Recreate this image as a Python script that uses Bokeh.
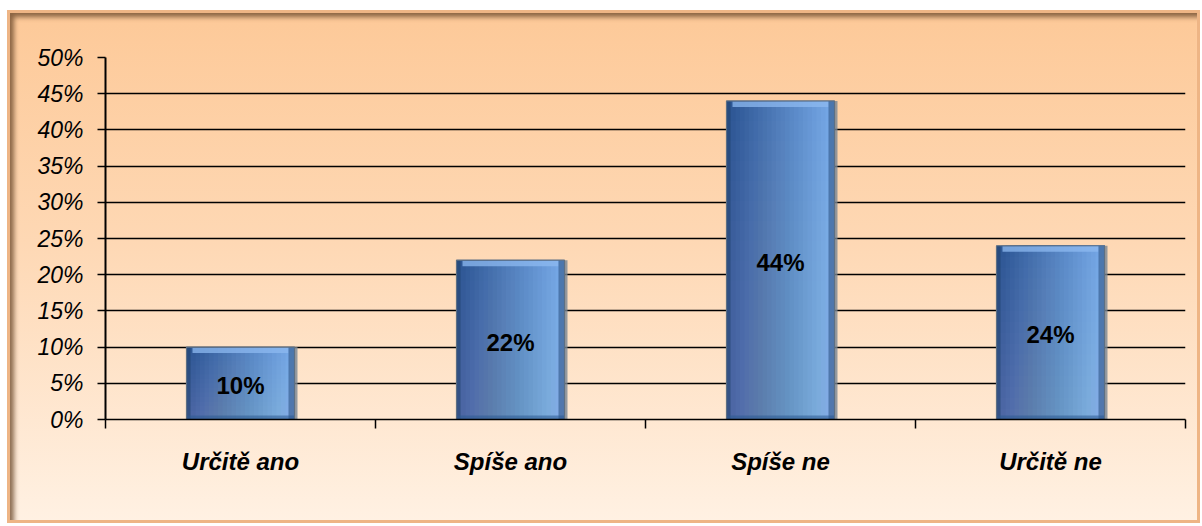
import numpy as np
from bokeh.plotting import figure
from bokeh.models import Range1d, FixedTicker, PrintfTickFormatter, ColumnDataSource
from bokeh.core.properties import value
from bokeh.embed import file_html
from bokeh.resources import INLINE

# ---- data ----
categories = ["Určitě ano", "Spíše ano", "Spíše ne", "Určitě ne"]
values = [10, 22, 44, 24]
value_labels = ["10%", "22%", "44%", "24%"]
y_ticks = [0, 5, 10, 15, 20, 25, 30, 35, 40, 45, 50]

FONT = "Liberation Sans"

n = len(categories)
centers = np.arange(n) + 0.5
vals = np.array(values, dtype=float)

p = figure(width=1193, height=513, output_backend="svg", toolbar_location=None,
           x_range=Range1d(0, n), y_range=Range1d(0, 50),
           min_border_left=98, min_border_right=15, min_border_top=47, min_border_bottom=104)
p.background_fill_color = None
p.border_fill_color = None
p.outline_line_color = None
p.styles = {
    "margin-left": "7px",
    "margin-top": "10px",
    "background": "linear-gradient(to bottom, #fdc998 0%, #fed8b4 45%, #fff1e3 100%)",
    "box-shadow": "inset 0 0 0 3px #eeb585, inset 8px 8px 5px -1px rgba(110,75,45,0.8), inset -2px -2px 2px rgba(255,255,255,0.6)",
}

# grid
p.xgrid.grid_line_color = None
p.ygrid.grid_line_color = "black"
p.ygrid.grid_line_width = 1.3
p.ygrid.ticker = FixedTicker(ticks=y_ticks)

# y axis
ya = p.yaxis[0]
ya.ticker = FixedTicker(ticks=y_ticks)
ya.formatter = PrintfTickFormatter(format="%d%%")
ya.axis_line_color = "black"
ya.axis_line_width = 2
ya.major_tick_line_color = "black"
ya.major_tick_line_width = 1.3
ya.major_tick_out = 8
ya.major_tick_in = 0
ya.minor_tick_line_color = None
ya.major_label_text_font = FONT
ya.major_label_text_font_style = "italic"
ya.major_label_text_font_size = "23px"
ya.major_label_text_color = "black"
ya.major_label_standoff = 14

# x axis
xa = p.xaxis[0]
xa.ticker = FixedTicker(ticks=list(centers), minor_ticks=list(np.arange(n + 1)))
xa.major_label_overrides = {float(c): cat for c, cat in zip(centers, categories)}
xa.axis_line_color = "black"
xa.axis_line_width = 1.5
xa.major_tick_line_color = None
xa.major_tick_out = 0
xa.major_tick_in = 0
xa.minor_tick_line_color = "black"
xa.minor_tick_line_width = 1.5
xa.minor_tick_out = 9
xa.minor_tick_in = 0
xa.major_label_text_font = FONT
xa.major_label_text_font_style = "bold italic"
xa.major_label_text_font_size = "24px"
xa.major_label_text_color = "black"
xa.major_label_standoff = 19

# ---- bars ----
bar_w = 0.4
px_x = 270.0   # approx pixels per x unit
px_y = 7.245   # approx pixels per percent

# shadow / outline
p.vbar(x=centers + 1.5 / px_x, top=vals, bottom=-1.5 / px_y, width=bar_w + 3 / px_x,
       fill_color="#7b8794", line_color=None, fill_alpha=0.8)

# horizontal gradient strips (overlapping to avoid seams)
left = np.array([42, 84, 146])
right = np.array([118, 168, 232])
ns = 24
sw = bar_w / ns
for k in range(ns):
    t = k / (ns - 1)
    c = (left * (1 - t) + right * t).astype(int)
    col = "#%02x%02x%02x" % tuple(c)
    x0 = centers - bar_w / 2 + sw * k
    wid = bar_w - sw * k
    p.vbar(x=x0 + wid / 2, top=vals, bottom=0, width=wid,
           fill_color=col, line_color=None)

# smooth vertical lightening toward the bottom
nb = 16
for k in range(1, nb + 1):
    p.vbar(x=centers, top=vals * k / nb, bottom=0, width=bar_w,
           fill_color="white", fill_alpha=0.011, line_color=None)

# bevels
bev = 6
p.vbar(x=centers, top=vals - 0.6 / px_y, bottom=vals - 6 / px_y, width=bar_w - 2 * bev / px_x,
       fill_color="#8dbaf0", fill_alpha=0.75, line_color=None)
p.vbar(x=centers + bar_w / 2 - bev / 2 / px_x, top=vals, bottom=0, width=bev / px_x,
       fill_color="#2f5585", fill_alpha=0.6, line_color=None)
p.vbar(x=centers - bar_w / 2 + 2 / px_x, top=vals, bottom=0, width=4 / px_x,
       fill_color="#1f3f6a", fill_alpha=0.5, line_color=None)
p.vbar(x=centers, top=4 / px_y, bottom=0, width=bar_w,
       fill_color="#2c5b94", fill_alpha=0.55, line_color=None)
p.vbar(x=centers, top=vals, bottom=0, width=bar_w,
       fill_color=None, line_color="#5d6f83", line_width=1.2)

# value labels
src = ColumnDataSource(dict(x=centers, y=vals / 2 - 0.3, t=value_labels))
p.text(x="x", y="y", text="t", source=src, text_font=value(FONT),
       text_font_style="bold", text_font_size="24px", text_color="black",
       text_align="center", text_baseline="middle")

open("out.html", "w").write(file_html(p, INLINE))
